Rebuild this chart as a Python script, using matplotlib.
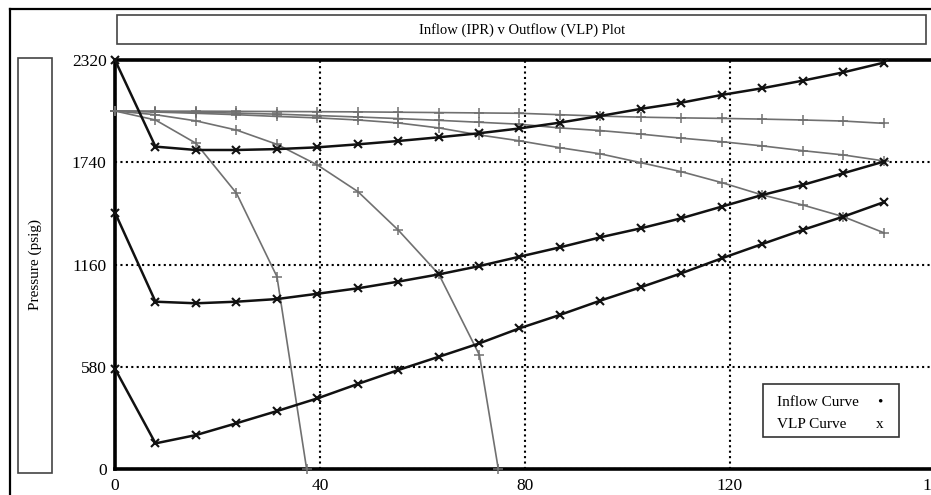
import matplotlib
matplotlib.use("Agg")
import matplotlib.pyplot as plt
from matplotlib.patches import Rectangle
from matplotlib.lines import Line2D

plt.rcParams['font.family'] = ['Liberation Serif', 'DejaVu Serif']

# ---- data ----
rates = [0, 7.9, 15.8, 23.7, 31.6, 39.5, 47.4, 55.3, 63.2, 71.1, 78.9,
         86.8, 94.7, 102.6, 110.5, 118.4, 126.3, 134.2, 142.1, 150]

vlp_1 = [2320, 1829, 1810, 1810, 1815, 1825, 1842, 1861, 1882, 1905, 1932,
         1965, 2003, 2043, 2078, 2122, 2160, 2203, 2250, 2305]
vlp_2 = [1455, 950, 941, 950, 965, 995, 1026, 1064, 1105, 1152, 1205,
         1258, 1315, 1366, 1423, 1489, 1555, 1612, 1678, 1744]
vlp_3 = [570, 147, 194, 261, 330, 402, 484, 563, 638, 714, 799,
         875, 956, 1032, 1111, 1196, 1277, 1357, 1432, 1514]

ipr1_rates = [0, 7.9, 15.8, 23.7, 31.6, 37.4]
ipr1 = [2031, 1980, 1848, 1565, 1092, 0]

ipr2_rates = [0, 7.9, 15.8, 23.7, 31.6, 39.5, 47.4, 55.3, 63.2, 71.1, 74.8]
ipr2 = [2031, 2010, 1975, 1923, 1842, 1725, 1574, 1355, 1105, 648, 0]

ipr3 = [2031, 2025, 2018, 2010, 2000, 1992, 1980, 1963, 1935, 1895, 1862,
        1823, 1788, 1738, 1687, 1625, 1555, 1498, 1432, 1341]
ipr4 = [2031, 2028, 2024, 2019, 2013, 2005, 1997, 1988, 1978, 1967, 1956,
        1935, 1920, 1900, 1877, 1857, 1833, 1806, 1782, 1748]
ipr5 = [2031, 2030, 2030, 2029, 2028, 2027, 2026, 2024, 2022, 2020, 2018,
        2010, 2002, 1996, 1992, 1989, 1985, 1980, 1974, 1961]

x_ticks = [0, 40, 80, 120, 160]
y_ticks = [0, 580, 1160, 1740, 2320]

title = "Inflow (IPR) v Outflow (VLP) Plot"
y_label = "Pressure (psig)"
legend_labels = ["Inflow Curve", "VLP Curve"]
legend_symbols = ["\u2022", "x"]

# ---- figure ----
W, H = 931, 495
fig = plt.figure(figsize=(W / 100, H / 100), dpi=100)

def fx(px):
    return px / W

def fy(py):
    return 1 - py / H

ax_left, ax_right, ax_top, ax_bot = 115, 935, 60, 469.3
ax = fig.add_axes([fx(ax_left), fy(ax_bot), (ax_right - ax_left) / W,
                   (ax_bot - ax_top) / H])

ipr_color = '#707070'
for xs, ys in [(ipr1_rates, ipr1), (ipr2_rates, ipr2), (rates, ipr3),
               (rates, ipr4), (rates, ipr5)]:
    ax.plot(xs, ys, color=ipr_color, lw=1.2, marker='+', ms=6.5, mew=1.1,
            zorder=3, clip_on=False)

for ys in [vlp_1, vlp_2, vlp_3]:
    ax.plot(rates, ys, color='#111111', lw=1.8, marker='x', ms=5.5, mew=1.5,
            zorder=4, clip_on=False)

ax.set_xlim(0, 160)
ax.set_ylim(0, 2320)
ax.set_xticks(x_ticks)
ax.set_yticks(y_ticks)
ax.tick_params(length=0, labelsize=12.5, pad=6)
ax.grid(True, color='black', linestyle=(0, (1, 1.6)), lw=1.5)
ax.set_axisbelow(True)
for s in ['left', 'bottom', 'top']:
    ax.spines[s].set_linewidth(2.6)
ax.spines['right'].set_visible(False)

# legend box (manual, symbols right of labels)
lx0, lx1, ly0, ly1 = 763, 899, 384, 437
fig.patches.append(Rectangle((fx(lx0), fy(ly1)), (lx1 - lx0) / W,
                             (ly1 - ly0) / H, transform=fig.transFigure,
                             fill=True, facecolor='white', edgecolor='#333333',
                             lw=1.2, zorder=10))
for i, (lab, sym) in enumerate(zip(legend_labels, legend_symbols)):
    yy = 402 + i * 22
    fig.text(fx(777), fy(yy), lab, fontsize=11, va='center', ha='left',
             zorder=11)
    fig.text(fx(880), fy(yy), sym, fontsize=11, va='center', ha='center',
             zorder=11)

# title box
fig.patches.append(Rectangle((fx(117), fy(44)), (926 - 117) / W, (44 - 15) / H,
                             transform=fig.transFigure, fill=False,
                             edgecolor='#444444', lw=1.2))
fig.text(fx(522), fy(30), title, fontsize=10.5, ha='center', va='center')

# y-label box
fig.patches.append(Rectangle((fx(18), fy(473)), (52 - 18) / W, (473 - 58) / H,
                             transform=fig.transFigure, fill=False,
                             edgecolor='#444444', lw=1.2))
fig.text(fx(35), fy(265), y_label, fontsize=11, ha='center', va='center',
         rotation=90)

# outer frame (left and top edges visible)
fig.add_artist(Line2D([fx(10), fx(10)], [fy(9), 0], transform=fig.transFigure,
                      color='black', lw=1.6))
fig.add_artist(Line2D([fx(10), 1], [fy(9), fy(9)], transform=fig.transFigure,
                      color='black', lw=1.6))

fig.savefig('out.png', dpi=100)
